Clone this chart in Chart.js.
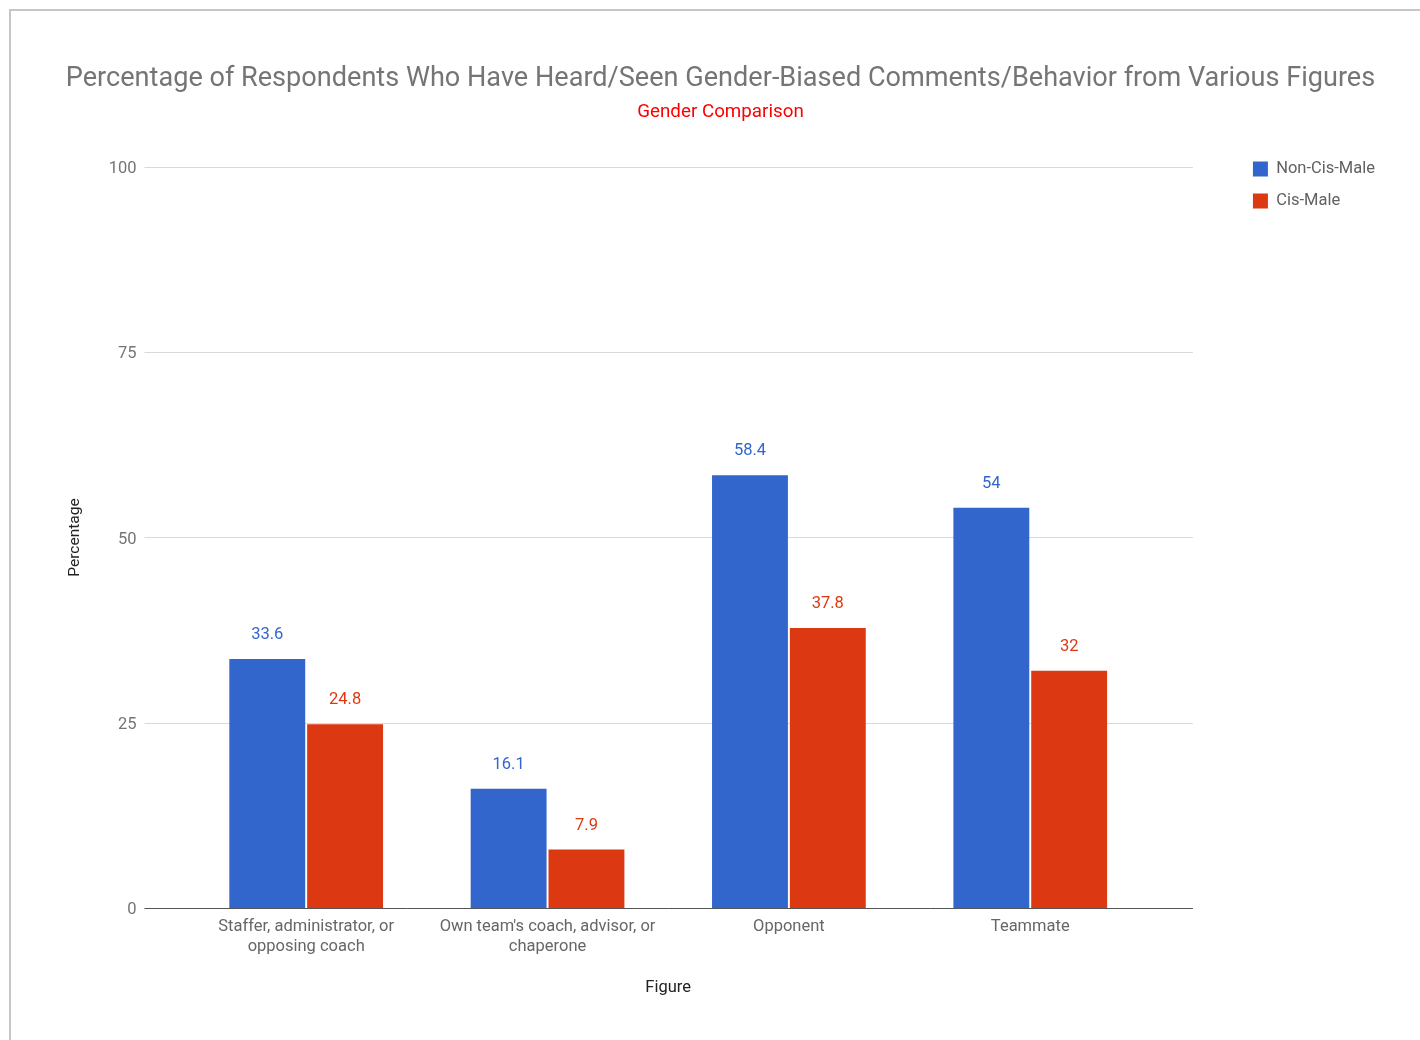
<!DOCTYPE html>
<html>
<head>
<meta charset="utf-8">
<script src="https://cdn.jsdelivr.net/npm/chart.js@4/dist/chart.umd.min.js"></script>
<style>
  body { margin: 0; background: #fff; }
  #wrap { position: relative; width: 1420px; height: 1040px; overflow: hidden; }
  #frame { position: absolute; left: 9px; top: 9px; right: -5px; bottom: -5px; border-top: 2px solid #c6c6c6; border-left: 2px solid #c6c6c6; }
  #myBarChart { position: absolute; left: 0; top: 0; }
</style>
</head>
<body>
<div id="wrap">
  <div id="frame"></div>
  <canvas id="myBarChart" width="1420" height="1040"></canvas>
</div>
<script>
// du lieu bieu do
var categories = [
    ['Staffer, administrator, or', 'opposing coach'],
    ["Own team's coach, advisor, or", 'chaperone'],
    'Opponent',
    'Teammate'
];
var seriesNames = ['Non-Cis-Male', 'Cis-Male'];
var nonCisMale = [33.6, 16.1, 58.4, 54];
var cisMale = [24.8, 7.9, 37.8, 32];
var yTicks = [0, 25, 50, 75, 100];

var colors = ['#3366cc', '#dc3912'];
var fontFamily = 'Roboto, "Noto Sans", sans-serif';

// ve luoi ngang rong hon vung cot (giong Google Charts)
var gridPlugin = {
    id: 'wideGrid',
    beforeDatasetsDraw: function (chart) {
        var ctx = chart.ctx;
        var area = chart.chartArea;
        var y = chart.scales.y;
        ctx.save();
        yTicks.forEach(function (t) {
            var py = Math.round(y.getPixelForValue(t)) + 0.5;
            ctx.beginPath();
            ctx.strokeStyle = t === 0 ? '#555555' : '#d9d9d9';
            ctx.lineWidth = 1;
            ctx.moveTo(area.left - 41, py);
            ctx.lineTo(area.right + 42, py);
            ctx.stroke();
        });
        ctx.restore();
    }
};

// nhan gia tri tren dau cot
var labelPlugin = {
    id: 'barValues',
    afterDatasetsDraw: function (chart) {
        var ctx = chart.ctx;
        ctx.save();
        ctx.font = '16.5px ' + fontFamily;
        ctx.textAlign = 'center';
        ctx.textBaseline = 'middle';
        chart.data.datasets.forEach(function (ds, i) {
            var meta = chart.getDatasetMeta(i);
            ctx.fillStyle = ds.backgroundColor;
            meta.data.forEach(function (bar, j) {
                ctx.fillText(String(ds.data[j]), bar.x, bar.y - 24);
            });
        });
        ctx.restore();
    }
};

var ctx = document.getElementById('myBarChart').getContext('2d');
new Chart(ctx, {
    type: 'bar',
    data: {
        labels: categories,
        datasets: [{
            label: seriesNames[0],
            data: nonCisMale,
            backgroundColor: colors[0],
            yAxisID: 'y'
        }, {
            label: seriesNames[1],
            data: cisMale,
            backgroundColor: colors[1],
            yAxisID: 'y'
        }]
    },
    options: {
        responsive: false,
        animation: false,
        devicePixelRatio: 1,
        datasets: {
            bar: { barPercentage: 0.975, categoryPercentage: 0.645 }
        },
        layout: { padding: { left: 56, right: 35, top: 0, bottom: 38 } },
        plugins: {
            title: {
                display: true,
                text: 'Percentage of Respondents Who Have Heard/Seen Gender-Biased Comments/Behavior from Various Figures',
                color: '#757575',
                font: { family: fontFamily, size: 27.1, weight: 'normal' },
                padding: { top: 62.7, bottom: 5 }
            },
            subtitle: {
                display: true,
                text: 'Gender Comparison',
                color: '#ff0000',
                font: { family: fontFamily, size: 18.8, weight: 'normal' },
                padding: { top: 0.5, bottom: 43.7 }
            },
            legend: {
                position: 'right',
                align: 'start',
                title: { display: true, text: ' ', font: { size: 1 }, padding: { top: 144, bottom: 0 } },
                labels: {
                    boxWidth: 15,
                    boxHeight: 15,
                    padding: 15.5,
                    color: '#616161',
                    font: { family: fontFamily, size: 16.5 }
                }
            },
            tooltip: { enabled: false }
        },
        scales: {
            x: {
                grid: { display: false, drawTicks: false },
                border: { display: false },
                ticks: {
                    color: '#666666',
                    padding: 9,
                    maxRotation: 0,
                    autoSkip: false,
                    font: { family: fontFamily, size: 16.5, lineHeight: 1.2 }
                },
                title: {
                    display: true,
                    text: 'Figure',
                    color: '#222222',
                    font: { family: fontFamily, size: 16.5 },
                    padding: { top: 4, bottom: 4 }
                },
                afterFit: function (scale) { scale.height = 94; }
            },
            y: {
                min: 0,
                max: 100,
                grid: { display: false, drawTicks: false },
                border: { display: false },
                afterBuildTicks: function (scale) {
                    scale.ticks = yTicks.map(function (v) { return { value: v }; });
                },
                ticks: {
                    color: '#757575',
                    padding: 49,
                    labelOffset: 2,
                    font: { family: fontFamily, size: 16.5 }
                },
                title: {
                    display: true,
                    text: 'Percentage',
                    color: '#222222',
                    font: { family: fontFamily, size: 15.5 },
                    padding: { top: 10, bottom: 4 }
                },
                afterFit: function (scale) { scale.width = 129.5; }
            },
            yRight: {
                position: 'right',
                display: true,
                grid: { display: false, drawTicks: false },
                border: { display: false },
                ticks: { display: false },
                afterFit: function (scale) { scale.width = 86.5; }
            }
        }
    },
    plugins: [gridPlugin, labelPlugin]
});
</script>
</body>
</html>
